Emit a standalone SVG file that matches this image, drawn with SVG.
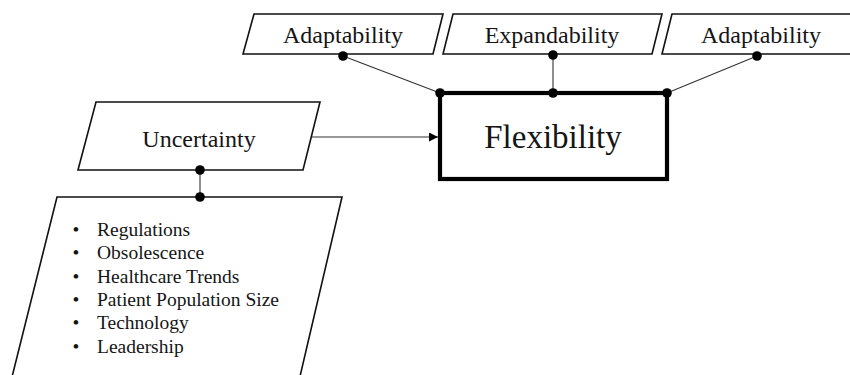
<svg xmlns="http://www.w3.org/2000/svg" width="850" height="375" viewBox="0 0 850 375">
  <style>
    .shape { fill: #ffffff; stroke: #111111; stroke-width: 1.6; }
    .main { fill: #ffffff; stroke: #000000; stroke-width: 4.2; }
    .label { font-family: "Liberation Serif", "Times New Roman", serif; fill: #151515; text-anchor: middle; }
    .item { font-family: "Liberation Serif", "Times New Roman", serif; fill: #151515; font-size: 19.5px; }
    .bullet { font-family: "Liberation Serif", "Times New Roman", serif; fill: #151515; font-size: 19.5px; text-anchor: middle; }
    .wire { stroke: #333333; stroke-width: 1.1; fill: none; }
    .dot { fill: #000000; }
  </style>
  <defs>
    <marker id="arrow" viewBox="0 0 10 10" refX="10" refY="5" markerWidth="9" markerHeight="9" markerUnits="userSpaceOnUse" orient="auto">
      <path d="M0,0 L10,5 L0,10 Z" fill="#000000"/>
    </marker>
  </defs>

  <rect width="850" height="375" fill="#ffffff"/>

  <!-- connectors -->
  <g id="connectors">
    <line class="wire" x1="343" y1="56" x2="440" y2="93"/>
    <line class="wire" x1="553" y1="55" x2="553" y2="93"/>
    <line class="wire" x1="757" y1="56" x2="667" y2="93"/>
    <line class="wire" x1="310" y1="137" x2="438" y2="137" marker-end="url(#arrow)"/>
    <line class="wire" x1="200" y1="170" x2="200" y2="197"/>
  </g>

  <g id="adaptability-left">
    <polygon class="shape" points="254,14 443,14 433,54 243,54"/>
    <text class="label" x="343" y="43" font-size="24">Adaptability</text>
  </g>

  <g id="expandability">
    <polygon class="shape" points="453,14 662,14 652,54 443,54"/>
    <text class="label" x="552" y="43" font-size="24">Expandability</text>
  </g>

  <g id="adaptability-right">
    <polygon class="shape" points="672,14 880,14 870,54 662,54"/>
    <text class="label" x="761" y="43" font-size="24">Adaptability</text>
  </g>

  <g id="flexibility">
    <rect class="main" x="440" y="93" width="227" height="86"/>
    <text class="label" x="553" y="148" font-size="33">Flexibility</text>
  </g>

  <g id="uncertainty">
    <polygon class="shape" points="96,102 320,102 303,170 78,170"/>
    <text class="label" x="199" y="147" font-size="24">Uncertainty</text>
  </g>

  <g id="factors">
    <polygon class="shape" points="57,197 342,197 298,385 10,385"/>
    <text class="bullet" x="76" y="236">•</text>
    <text class="item" x="97" y="236">Regulations</text>
    <text class="bullet" x="76" y="259.3">•</text>
    <text class="item" x="97" y="259.3">Obsolescence</text>
    <text class="bullet" x="76" y="282.6">•</text>
    <text class="item" x="97" y="282.6">Healthcare Trends</text>
    <text class="bullet" x="76" y="306">•</text>
    <text class="item" x="97" y="306">Patient Population Size</text>
    <text class="bullet" x="76" y="329.3">•</text>
    <text class="item" x="97" y="329.3">Technology</text>
    <text class="bullet" x="76" y="352.6">•</text>
    <text class="item" x="97" y="352.6">Leadership</text>
  </g>

  <!-- junction dots -->
  <g id="junctions">
    <circle class="dot" cx="343" cy="56" r="4.8"/>
    <circle class="dot" cx="553" cy="55" r="4.8"/>
    <circle class="dot" cx="757" cy="56" r="4.8"/>
    <circle class="dot" cx="440" cy="93" r="4.8"/>
    <circle class="dot" cx="553" cy="93" r="4.8"/>
    <circle class="dot" cx="667" cy="93" r="4.8"/>
    <circle class="dot" cx="200" cy="170" r="4.8"/>
    <circle class="dot" cx="200" cy="197" r="4.8"/>
  </g>
</svg>
